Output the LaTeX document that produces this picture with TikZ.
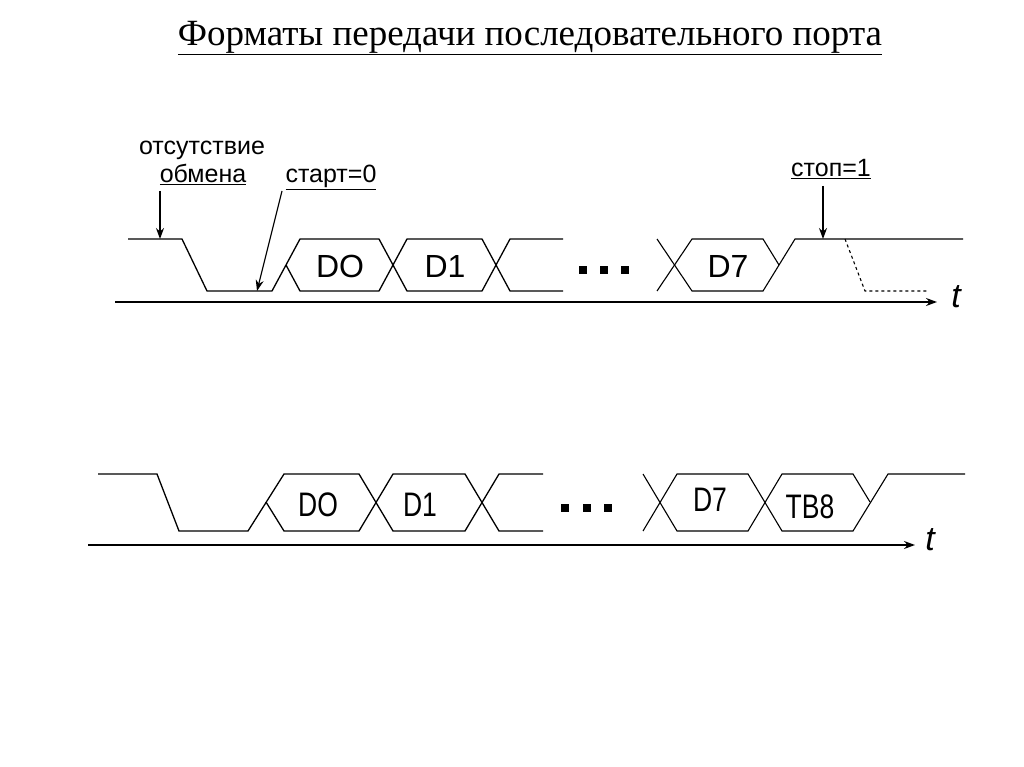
\documentclass[tikz,border=0pt]{standalone}
\usepackage{fontspec}
\setmainfont{Liberation Serif}
\newfontfamily\ar{Liberation Sans}
\usetikzlibrary{arrows.meta}
\begin{document}
\begin{tikzpicture}[x=1pt,y=-1pt,
  wave/.style={line width=1.3pt},
  thin/.style={line width=1.1pt},
  axis/.style={line width=1.4pt,-{Stealth[length=11pt,width=8pt]}},
  lbl/.style={font=\ar\fontsize{25}{26}\selectfont,inner sep=1pt,anchor=base},
  big/.style={font=\ar\fontsize{32}{34}\selectfont,inner sep=0pt},
  bigc/.style={font=\ar\fontsize{34}{36}\selectfont,inner sep=0pt,xscale=0.78},
  tt/.style={font=\ar\fontsize{34}{36}\selectfont\itshape,inner sep=0pt},
  pt/.style={arrows={-Stealth[length=11pt,width=8pt]},line width=1.2pt}]
\useasboundingbox (0,0) rectangle (1024,767);
\node (title) at (530,38) {\fontsize{37}{40}\selectfont\underline{Форматы передачи последовательного порта}};
% ---------- top ----------
\coordinate (ax1s) at (115,302); \coordinate (ax1e) at (937,302);
\draw[axis] (ax1s) -- (ax1e);
\node[tt] (t1) at (956,297) {t};
\draw[wave] (128,239)--(182,239)--(207,291)--(272,291)--(300,239)--(379,239)--(407,291)--(482,291)--(510,239)--(563,239);
\draw[wave] (286,265)--(300,291)--(379,291)--(407,239)--(482,239)--(510,291)--(563,291);
\draw[thin] (657,239)--(692,291)--(763,291)--(795,239)--(963,239);
\draw[thin] (657,291)--(692,239)--(763,239)--(779,265);
\draw[thin,dashed] (845,239)--(865,291)--(927,291);
\foreach \x in {583,604,625} \fill (\x-4,266) rectangle (\x+4,274);
\node[big] (d0a) at (340,266) {DO};
\node[big] (d1a) at (445,266) {D1};
\node[big] (d7a) at (728,266) {D7};
\node[lbl] (ots) at (202,155) {отсутствие};
\node[lbl] (obm) at (203,183) {\underline{обмена}};
\node[lbl] (start) at (331,183) {\underline{старт=0}};
\node[lbl] (stop) at (831,177) {\underline{стоп=1}};
\coordinate (pa) at (160,239); \coordinate (pb) at (257,291); \coordinate (pc) at (823,239);
\draw[pt] (160,191) -- (pa);
\draw[pt] (282,191) -- (pb);
\draw[pt] (823,186) -- (pc);
% ---------- bottom ----------
\coordinate (ax2s) at (88,545); \coordinate (ax2e) at (915,545);
\draw[axis] (ax2s) -- (ax2e);
\node[tt] (t2) at (930,540) {t};
\draw[wave] (98,474)--(157,474)--(179,531)--(248,531)--(284,474)--(359,474)--(393,531)--(465,531)--(499,474)--(543,474);
\draw[wave] (266,502)--(284,531)--(359,531)--(393,474)--(465,474)--(499,531)--(543,531);
\draw[thin] (643,474)--(677,531)--(748,531)--(782,474)--(853,474)--(870,502);
\draw[thin] (643,531)--(677,474)--(748,474)--(782,531)--(853,531)--(888,474)--(965,474);
\foreach \x in {565,587,608} \fill (\x-4,504) rectangle (\x+4,512);
\node[bigc] (d0b) at (318,505) {DO};
\node[bigc] (d1b) at (420,505) {D1};
\node[bigc] (d7b) at (710,500) {D7};
\node[bigc] (tb8) at (810,507) {TB8};
\end{tikzpicture}
\end{document}
